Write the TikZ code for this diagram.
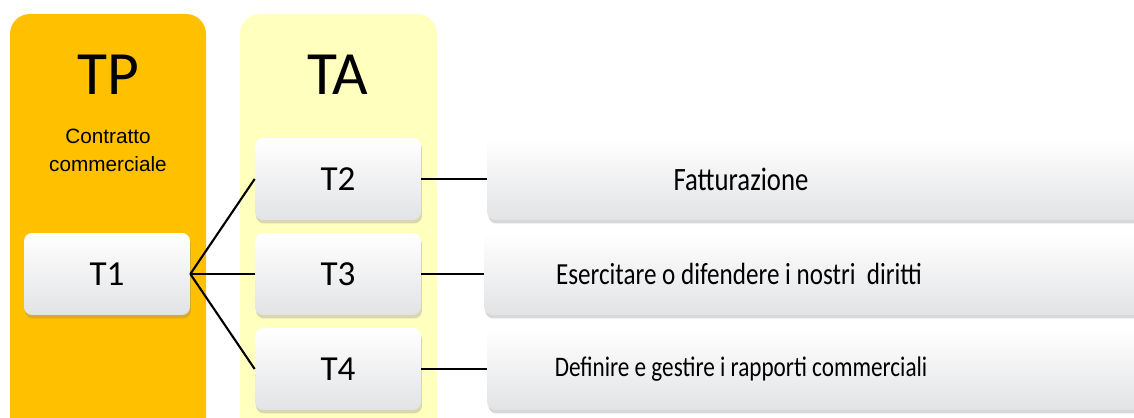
\documentclass[tikz,border=0pt]{standalone}
\usepackage{fontspec}
\setmainfont{Carlito}
\newfontfamily\arialfont{Liberation Sans}
\usetikzlibrary{shadows}
\definecolor{tpcol}{HTML}{FFC000}
\definecolor{tacol}{HTML}{FFFFBE}
\definecolor{boxbot}{HTML}{E2E3E5}
\newcommand{\tallt}[1]{\scalebox{1}[1.22]{#1}}
\tikzset{
  col/.style={rounded corners=0.4cm},
  tbox/.style={rectangle, rounded corners=0.16cm, top color=white, bottom color=boxbot,
    drop shadow={shadow xshift=0.02cm, shadow yshift=-0.07cm, opacity=0.3},
    minimum width=3.32cm, minimum height=1.64cm, inner sep=0pt,
    font=\fontsize{20}{24}\selectfont},
  fbox/.style={tbox, minimum width=14cm, anchor=west},
  lnk/.style={draw=black, line width=1.2pt}
}

\begin{document}
\begin{tikzpicture}[x=0.02cm, y=-0.02cm]
\clip (0,0) rectangle (1134,418);
\fill[white] (0,0) rectangle (1134,418);
% columns
\fill[tpcol, col] (10,14) rectangle (206,460);
\fill[tacol, col] (240,14) rectangle (437,460);
\node[font=\fontsize{35}{40}\selectfont] (tp) at (108,75) {TP};
\node[font=\fontsize{35}{40}\selectfont] (ta) at (338,75) {TA};
\node[font=\arialfont\fontsize{11.8}{16}\selectfont, align=center] (ctr) at (108,150) {Contratto\\commerciale};

% left boxes
\node[tbox] (t1) at (107,274) {T1};
\node[tbox] (t2) at (338,179) {T2};
\node[tbox] (t3) at (338,274) {T3};
\node[tbox] (t4) at (338,369) {T4};

% right boxes
\node[fbox] (r2) at (487,179) {};
\node[fbox] (r3) at (484,274) {};
\node[fbox] (r4) at (487,369) {};
\node[font=\fontsize{15.2}{18}\selectfont] (f2) at (741,179) {\tallt{Fatturazione}};
\node[font=\fontsize{14.3}{18}\selectfont] (f3) at (739,274) {\tallt{Esercitare o difendere i nostri\ \ diritti}};
\node[font=\fontsize{13.2}{18}\selectfont] (f4) at (741,369) {\tallt{Definire e gestire i rapporti commerciali}};

% links
\draw[lnk] (t1.east) -- (t2.west);
\draw[lnk] (t1.east) -- (t3.west);
\draw[lnk] (t1.east) -- (t4.west);
\draw[lnk] (t2.east) -- (r2.west);
\draw[lnk] (t3.east) -- (r3.west);
\draw[lnk] (t4.east) -- (r4.west);
\end{tikzpicture}
\end{document}
